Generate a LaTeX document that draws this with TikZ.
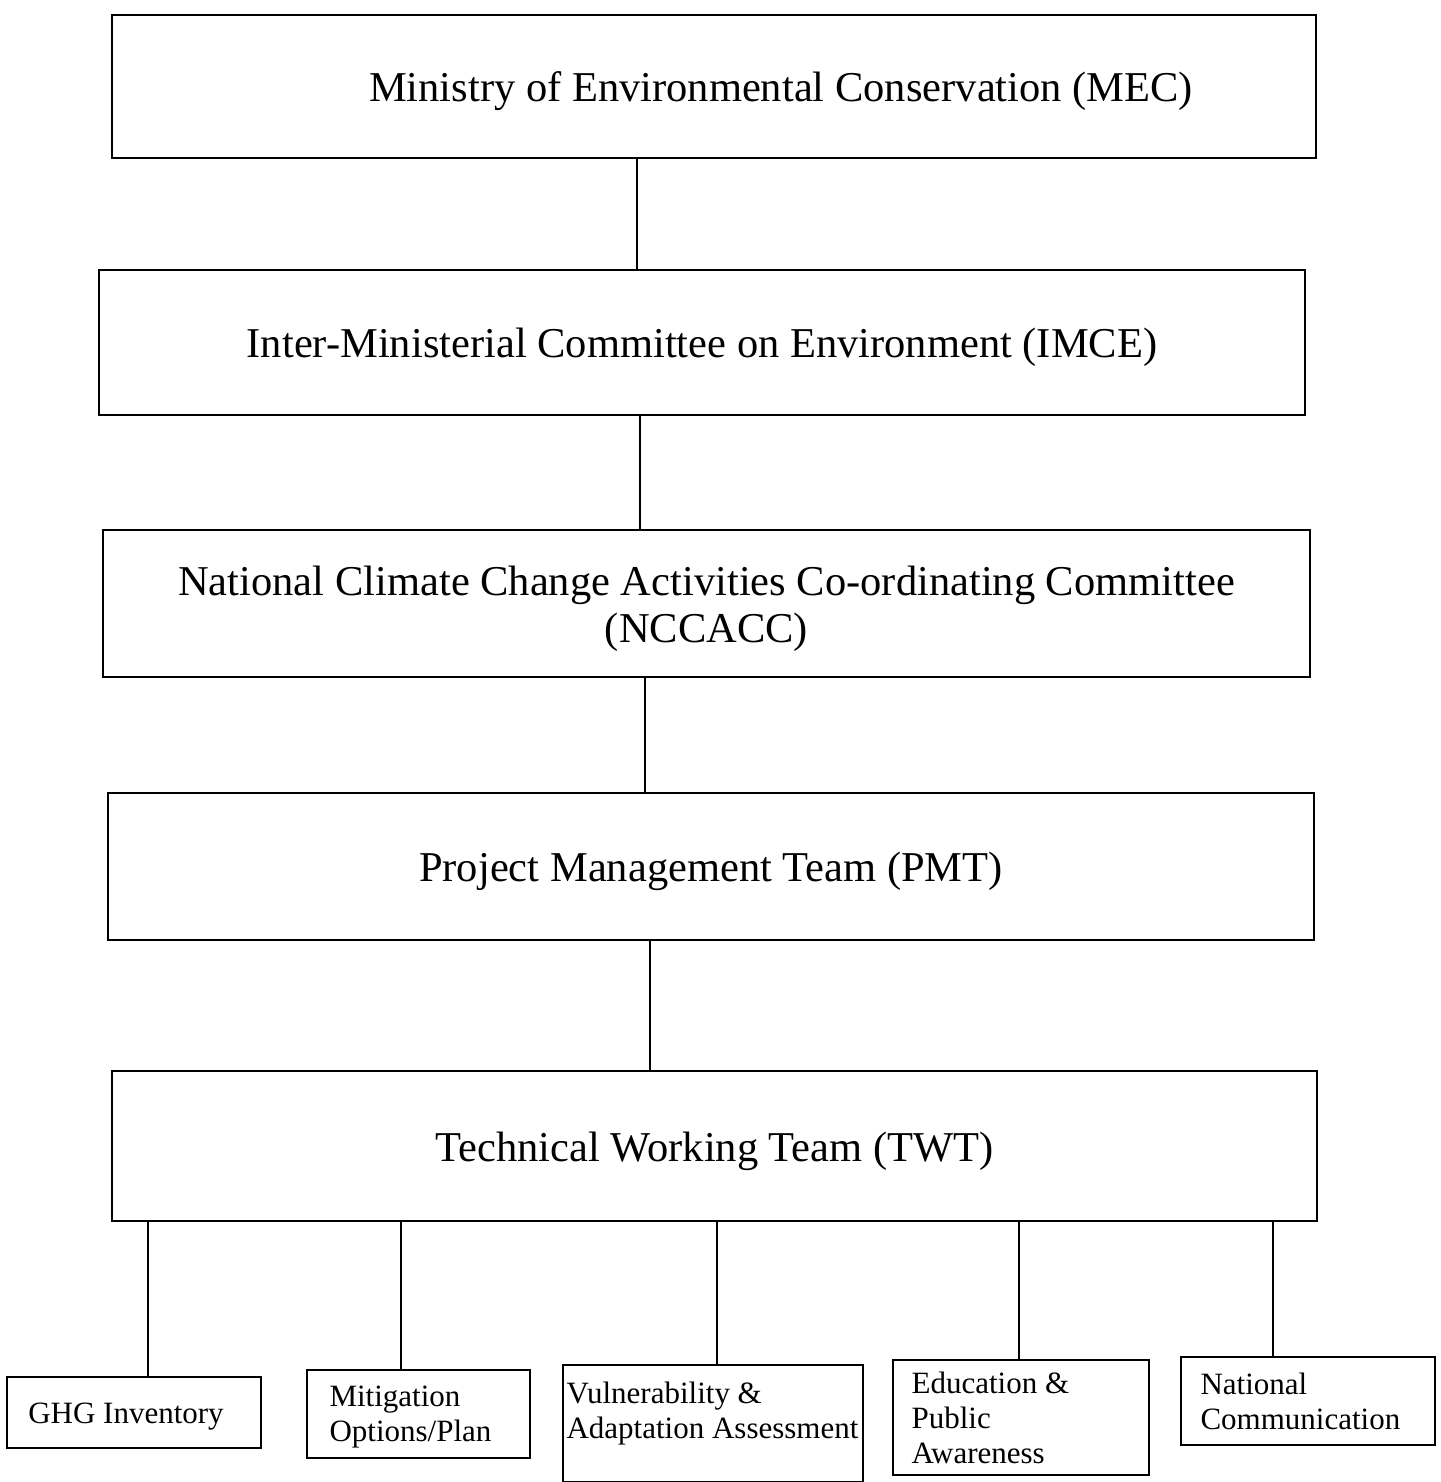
\documentclass[tikz,border=0pt]{standalone}
\usepackage{fontspec}
\setmainfont{Liberation Serif}
\begin{document}
\begin{tikzpicture}[x=1pt,y=-1pt,
  box/.style={draw, line width=1.3pt, inner sep=0pt},
  bigtxt/.style={font=\fontsize{42.5}{47}\selectfont, inner sep=0pt, align=center, yshift=-5pt},
  smtxt/.style={font=\fontsize{31}{35}\selectfont, inner sep=0pt, align=left},
  link/.style={line width=1.4pt},
  sublink/.style={line width=2.4pt}]
\useasboundingbox (0,0) rectangle (1440,1482);
% main chain
\node[box, minimum width=1204pt, minimum height=143pt,
  label={[bigtxt, xshift=67pt]center:Ministry of Environmental Conservation (MEC)}] (mec) at (714,86.5) {};
\node[box, minimum width=1206pt, minimum height=145pt,
  label={[bigtxt]center:Inter-Ministerial Committee on Environment (IMCE)}] (imce) at (702,342.5) {};
\node[box, minimum width=1207pt, minimum height=147pt,
  label={[bigtxt]center:National Climate Change Activities Co-ordinating Committee\\(NCCACC)}] (nccacc) at (706.5,603.5) {};
\node[box, minimum width=1206pt, minimum height=147pt,
  label={[bigtxt]center:Project Management Team (PMT)}] (pmt) at (711,866.5) {};
\node[box, minimum width=1205pt, minimum height=150pt,
  label={[bigtxt]center:Technical Working Team (TWT)}] (twt) at (714.5,1146) {};
% bottom boxes
\node[box, minimum width=254pt, minimum height=71pt,
  label={[smtxt, xshift=-8pt, yshift=-4pt]center:GHG Inventory}] (ghg) at (134,1412.5) {};
\node[box, minimum width=223pt, minimum height=88pt,
  label={[smtxt, anchor=west, xshift=23pt, yshift=-3pt]west:Mitigation\\Options/Plan}] (mit) at (418.5,1414) {};
\node[box, minimum width=300pt, minimum height=117pt,
  label={[smtxt, anchor=west, xshift=4pt, yshift=10pt]west:Vulnerability \&\\Adaptation Assessment}] (vul) at (713,1423.5) {};
\node[box, minimum width=256pt, minimum height=115pt,
  label={[smtxt, anchor=west, xshift=19pt]west:Education \&\\Public\\Awareness}] (edu) at (1021,1417.5) {};
\node[box, minimum width=254pt, minimum height=88pt,
  label={[smtxt, anchor=west, xshift=20pt]west:National\\Communication}] (nat) at (1308,1401) {};
% connector columns
\coordinate (k1) at (637,0);
\coordinate (k2) at (640,0);
\coordinate (k3) at (645,0);
\coordinate (k4) at (650,0);
\coordinate (s1) at (148,0);
\coordinate (s2) at (401,0);
\coordinate (s3) at (717,0);
\coordinate (s4) at (1019,0);
\coordinate (s5) at (1273,0);
\draw[link] (mec.south -| k1) -- (imce.north -| k1);
\draw[link] (imce.south -| k2) -- (nccacc.north -| k2);
\draw[link] (nccacc.south -| k3) -- (pmt.north -| k3);
\draw[link] (pmt.south -| k4) -- (twt.north -| k4);
\draw[sublink] (twt.south -| s1) -- (ghg.north -| s1);
\draw[sublink] (twt.south -| s2) -- (mit.north -| s2);
\draw[sublink] (twt.south -| s3) -- (vul.north -| s3);
\draw[sublink] (twt.south -| s4) -- (edu.north -| s4);
\draw[sublink] (twt.south -| s5) -- (nat.north -| s5);
\end{tikzpicture}
\end{document}
